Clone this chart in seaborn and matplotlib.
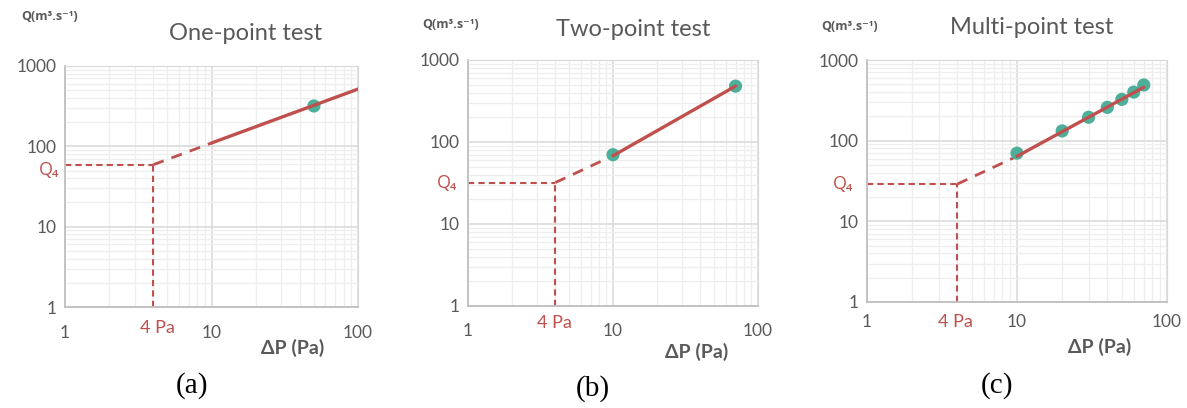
import matplotlib
matplotlib.use("Agg")
import matplotlib.pyplot as plt
import matplotlib.transforms as mtransforms
import seaborn as sns

# one-point test
one_dp = [50]
one_q = [318]
one_fit_dp = [10, 100]
one_fit_q = [110, 516]
one_ext_dp = [4, 10]
one_ext_q = [59, 110]
one_q4 = 59

# two-point test
two_dp = [10, 70]
two_q = [70, 480]
two_fit_dp = [10, 70]
two_fit_q = [68, 480]
two_ext_dp = [4, 10]
two_ext_q = [32, 68]
two_q4 = 32

# multi-point test
multi_dp = [10, 20, 30, 40, 50, 60, 70]
multi_q = [70, 132, 195, 259, 325, 400, 490]
multi_fit_dp = [10, 70]
multi_fit_q = [64, 460]
multi_ext_dp = [4, 10]
multi_ext_q = [29, 64]
multi_q4 = 29

p_ref = 4
x_ticks = [1, 10, 100]
y_ticks = [1, 10, 100, 1000]

sns.set_style("white")
plt.rcParams["font.family"] = ["Lato", "DejaVu Sans"]

RED = "#C0504D"
TEAL = "#4DAF9A"
GREY = "#595959"
SUPFONT = ["Open Sans", "DejaVu Sans"]

fig = plt.figure(figsize=(11.87, 4.08), dpi=100)
W, H = 1187, 408


def px(x, y):
    return x / W, 1 - y / H


panels = [
    dict(box=(65, 66, 358, 307), title="One-point test", tag="(a)",
         dp=one_dp, q=one_q, fdp=one_fit_dp, fq=one_fit_q,
         edp=one_ext_dp, eq=one_ext_q, q4=one_q4,
         qlab=(50, 17), tit=(246, 33), dplab=(293, 348), tagpos=(192, 386),
         q4lab=(49, 170), palab=(157, 328), xtk=333),
    dict(box=(468, 60, 758, 306), title="Two-point test", tag="(b)",
         dp=two_dp, q=two_q, fdp=two_fit_dp, fq=two_fit_q,
         edp=two_ext_dp, eq=two_ext_q, q4=two_q4,
         qlab=(451, 25), tit=(633, 29), dplab=(697, 352), tagpos=(593, 389),
         q4lab=(447, 183), palab=(554, 323), xtk=331),
    dict(box=(867, 60, 1167, 302), title="Multi-point test", tag="(c)",
         dp=multi_dp, q=multi_q, fdp=multi_fit_dp, fq=multi_fit_q,
         edp=multi_ext_dp, eq=multi_ext_q, q4=multi_q4,
         qlab=(850, 27), tit=(1032, 27), dplab=(1100, 347), tagpos=(997, 386),
         q4lab=(843, 184), palab=(955, 322), xtk=322),
]

for p in panels:
    l, t, r, b = p["box"]
    ax = fig.add_axes([l / W, 1 - b / H, (r - l) / W, (b - t) / H])
    ax.set_xscale("log")
    ax.set_yscale("log")
    ax.set_xlim(1, 100)
    ax.set_ylim(1, 1000)

    ax.grid(True, which="major", color="#d9d9d9", lw=1.1)
    ax.grid(True, which="minor", color="#eeeeee", lw=0.9)
    ax.set_axisbelow(True)
    for s in ["top", "right"]:
        ax.spines[s].set_color("#d9d9d9")
    for s in ["left", "bottom"]:
        ax.spines[s].set_color("#bfbfbf")
        ax.spines[s].set_linewidth(1.3)
    ax.tick_params(which="both", length=0)
    ax.set_xticks(x_ticks)
    ax.set_yticks(y_ticks)
    ax.set_xticklabels([])
    ax.set_yticklabels([str(v) for v in y_ticks], color=GREY, fontsize=12.5)
    ax.tick_params(axis="y", pad=6)

    # x tick labels sit well below the axis
    tr = mtransforms.offset_copy(ax.get_xaxis_transform(), fig=fig,
                                 x=0, y=-(p["xtk"] - b), units="dots")
    for v in x_ticks:
        ax.text(v, 0, str(v), transform=tr, ha="center", va="center",
                color=GREY, fontsize=12.5, clip_on=False)

    # guide lines to Q4
    sns.lineplot(x=[1, p_ref], y=[p["q4"], p["q4"]], ax=ax, color=RED,
                 lw=1.5, linestyle=(0, (3, 2)))
    sns.lineplot(x=[p_ref, p_ref], y=[1, p["q4"]], ax=ax, color=RED,
                 lw=1.5, linestyle=(0, (3, 2)), orient="y")
    # extrapolation and fit
    sns.lineplot(x=p["edp"], y=p["eq"], ax=ax, color=RED, lw=2.0,
                 linestyle=(0, (4, 3)))
    sns.scatterplot(x=p["dp"], y=p["q"], ax=ax, color=TEAL, s=90,
                    edgecolor="none", zorder=3)
    sns.lineplot(x=p["fdp"], y=p["fq"], ax=ax, color=RED, lw=2.4, zorder=4)
    ax.set_xlabel("")
    ax.set_ylabel("")

    fig.text(*px(*p["qlab"]), "Q(m³.s⁻¹)", ha="center", va="center",
             fontsize=9, fontweight="bold", color=GREY, family=SUPFONT)
    fig.text(*px(*p["tit"]), p["title"], ha="center", va="center",
             fontsize=17, color=GREY)
    fig.text(*px(*p["dplab"]), "ΔP (Pa)", ha="center", va="center",
             fontsize=14, fontweight="bold", color=GREY)
    fig.text(*px(*p["q4lab"]), "Q₄", ha="center", va="center",
             fontsize=13, color=RED, family=SUPFONT)
    fig.text(*px(*p["palab"]), "4 Pa", ha="center", va="center",
             fontsize=13, color=RED)
    fig.text(*px(*p["tagpos"]), p["tag"], ha="center", va="center",
             fontsize=21, family="Liberation Serif", color="black")

fig.savefig("out.png", dpi=100)
